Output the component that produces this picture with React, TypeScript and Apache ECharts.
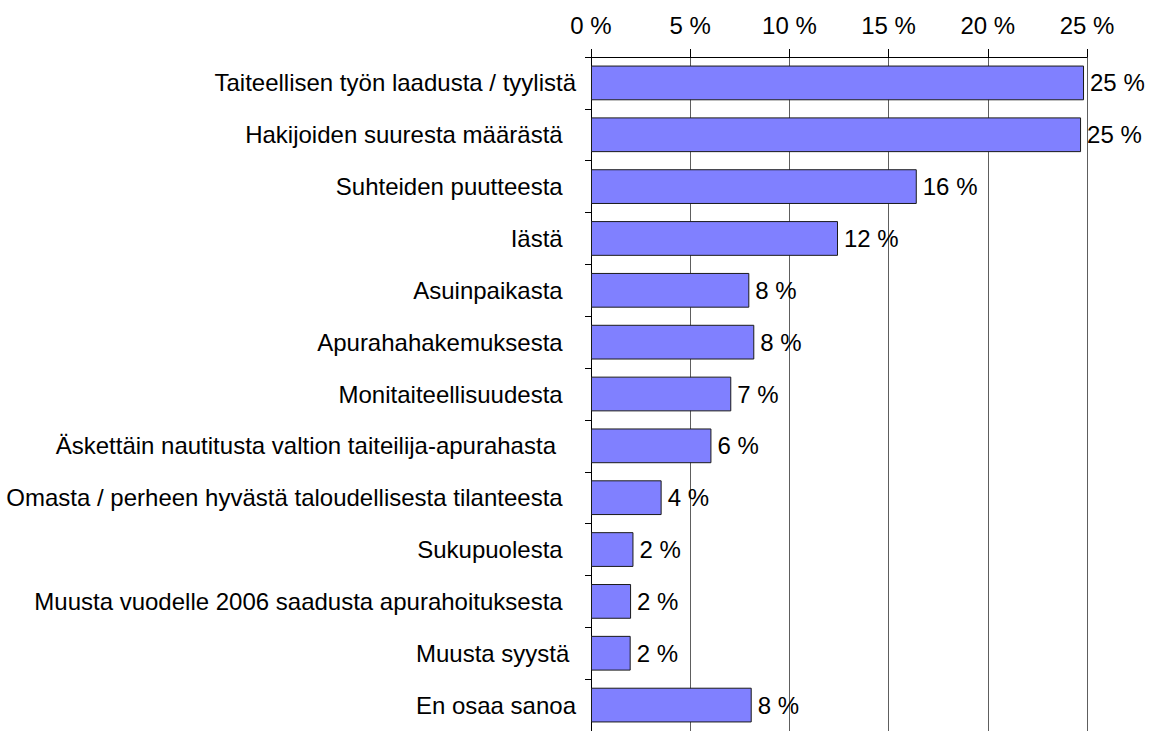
import React, { useEffect, useRef } from "react";
import * as echarts from "echarts";

const categories = [
  "Taiteellisen työn laadusta / tyylistä",
  "Hakijoiden suuresta määrästä\u00a0\u00a0",
  "Suhteiden puutteesta\u00a0\u00a0",
  "Iästä\u00a0\u00a0",
  "Asuinpaikasta\u00a0\u00a0",
  "Apurahahakemuksesta\u00a0\u00a0",
  "Monitaiteellisuudesta\u00a0\u00a0",
  "Äskettäin nautitusta valtion taiteilija-apurahasta\u00a0\u00a0\u00a0",
  "Omasta / perheen hyvästä taloudellisesta tilanteesta\u00a0\u00a0",
  "Sukupuolesta\u00a0\u00a0",
  "Muusta vuodelle 2006 saadusta apurahoituksesta\u00a0\u00a0",
  "Muusta syystä\u00a0",
  "En osaa sanoa",
];

const values = [24.85, 24.7, 16.42, 12.45, 7.98, 8.23, 7.07, 6.07, 3.56, 2.14, 2.02, 2.0, 8.1];

const FONT = "'Liberation Sans', Arial, sans-serif";

export default function App() {
  const ref = useRef<HTMLDivElement>(null);
  useEffect(() => {
    document.body.style.margin = "0";
    const chart = echarts.init(ref.current!, null, { renderer: "svg" });
    chart.setOption({
      animation: false,
      backgroundColor: "#ffffff",
      grid: { left: 591, top: 57, width: 496, height: 680, containLabel: false },
      xAxis: {
        type: "value",
        position: "top",
        min: 0,
        max: 25,
        interval: 5,
        axisLine: { show: true, lineStyle: { color: "#000", width: 1 } },
        axisTick: { show: true, length: 8, lineStyle: { color: "#000" } },
        axisLabel: {
          formatter: "{value} %",
          color: "#000",
          fontSize: 24,
          fontFamily: FONT,
          margin: 20,
        },
        splitLine: { show: true, lineStyle: { color: "#5e5e5e", width: 1 } },
      },
      yAxis: {
        type: "category",
        inverse: true,
        data: categories,
        axisLine: { show: true, lineStyle: { color: "#000", width: 1 } },
        axisTick: { show: true, length: 6, lineStyle: { color: "#000" } },
        axisLabel: {
          color: "#000",
          fontSize: 24,
          fontFamily: FONT,
          margin: 15,
        },
        splitLine: { show: false },
      },
      series: [
        {
          type: "bar",
          data: values,
          barCategoryGap: "33%",
          itemStyle: { color: "#8080FF", borderColor: "#1a1a1a", borderWidth: 1 },
          label: {
            show: true,
            position: "right",
            distance: 6,
            color: "#000",
            fontSize: 24,
            fontFamily: FONT,
            formatter: (p: any) => Math.round(p.value) + " %",
          },
        },
      ],
    });
    return () => chart.dispose();
  }, []);
  return (
    <div
      ref={ref}
      style={{ position: "absolute", left: 0, top: 0, width: 1151, height: 731 }}
    />
  );
}
